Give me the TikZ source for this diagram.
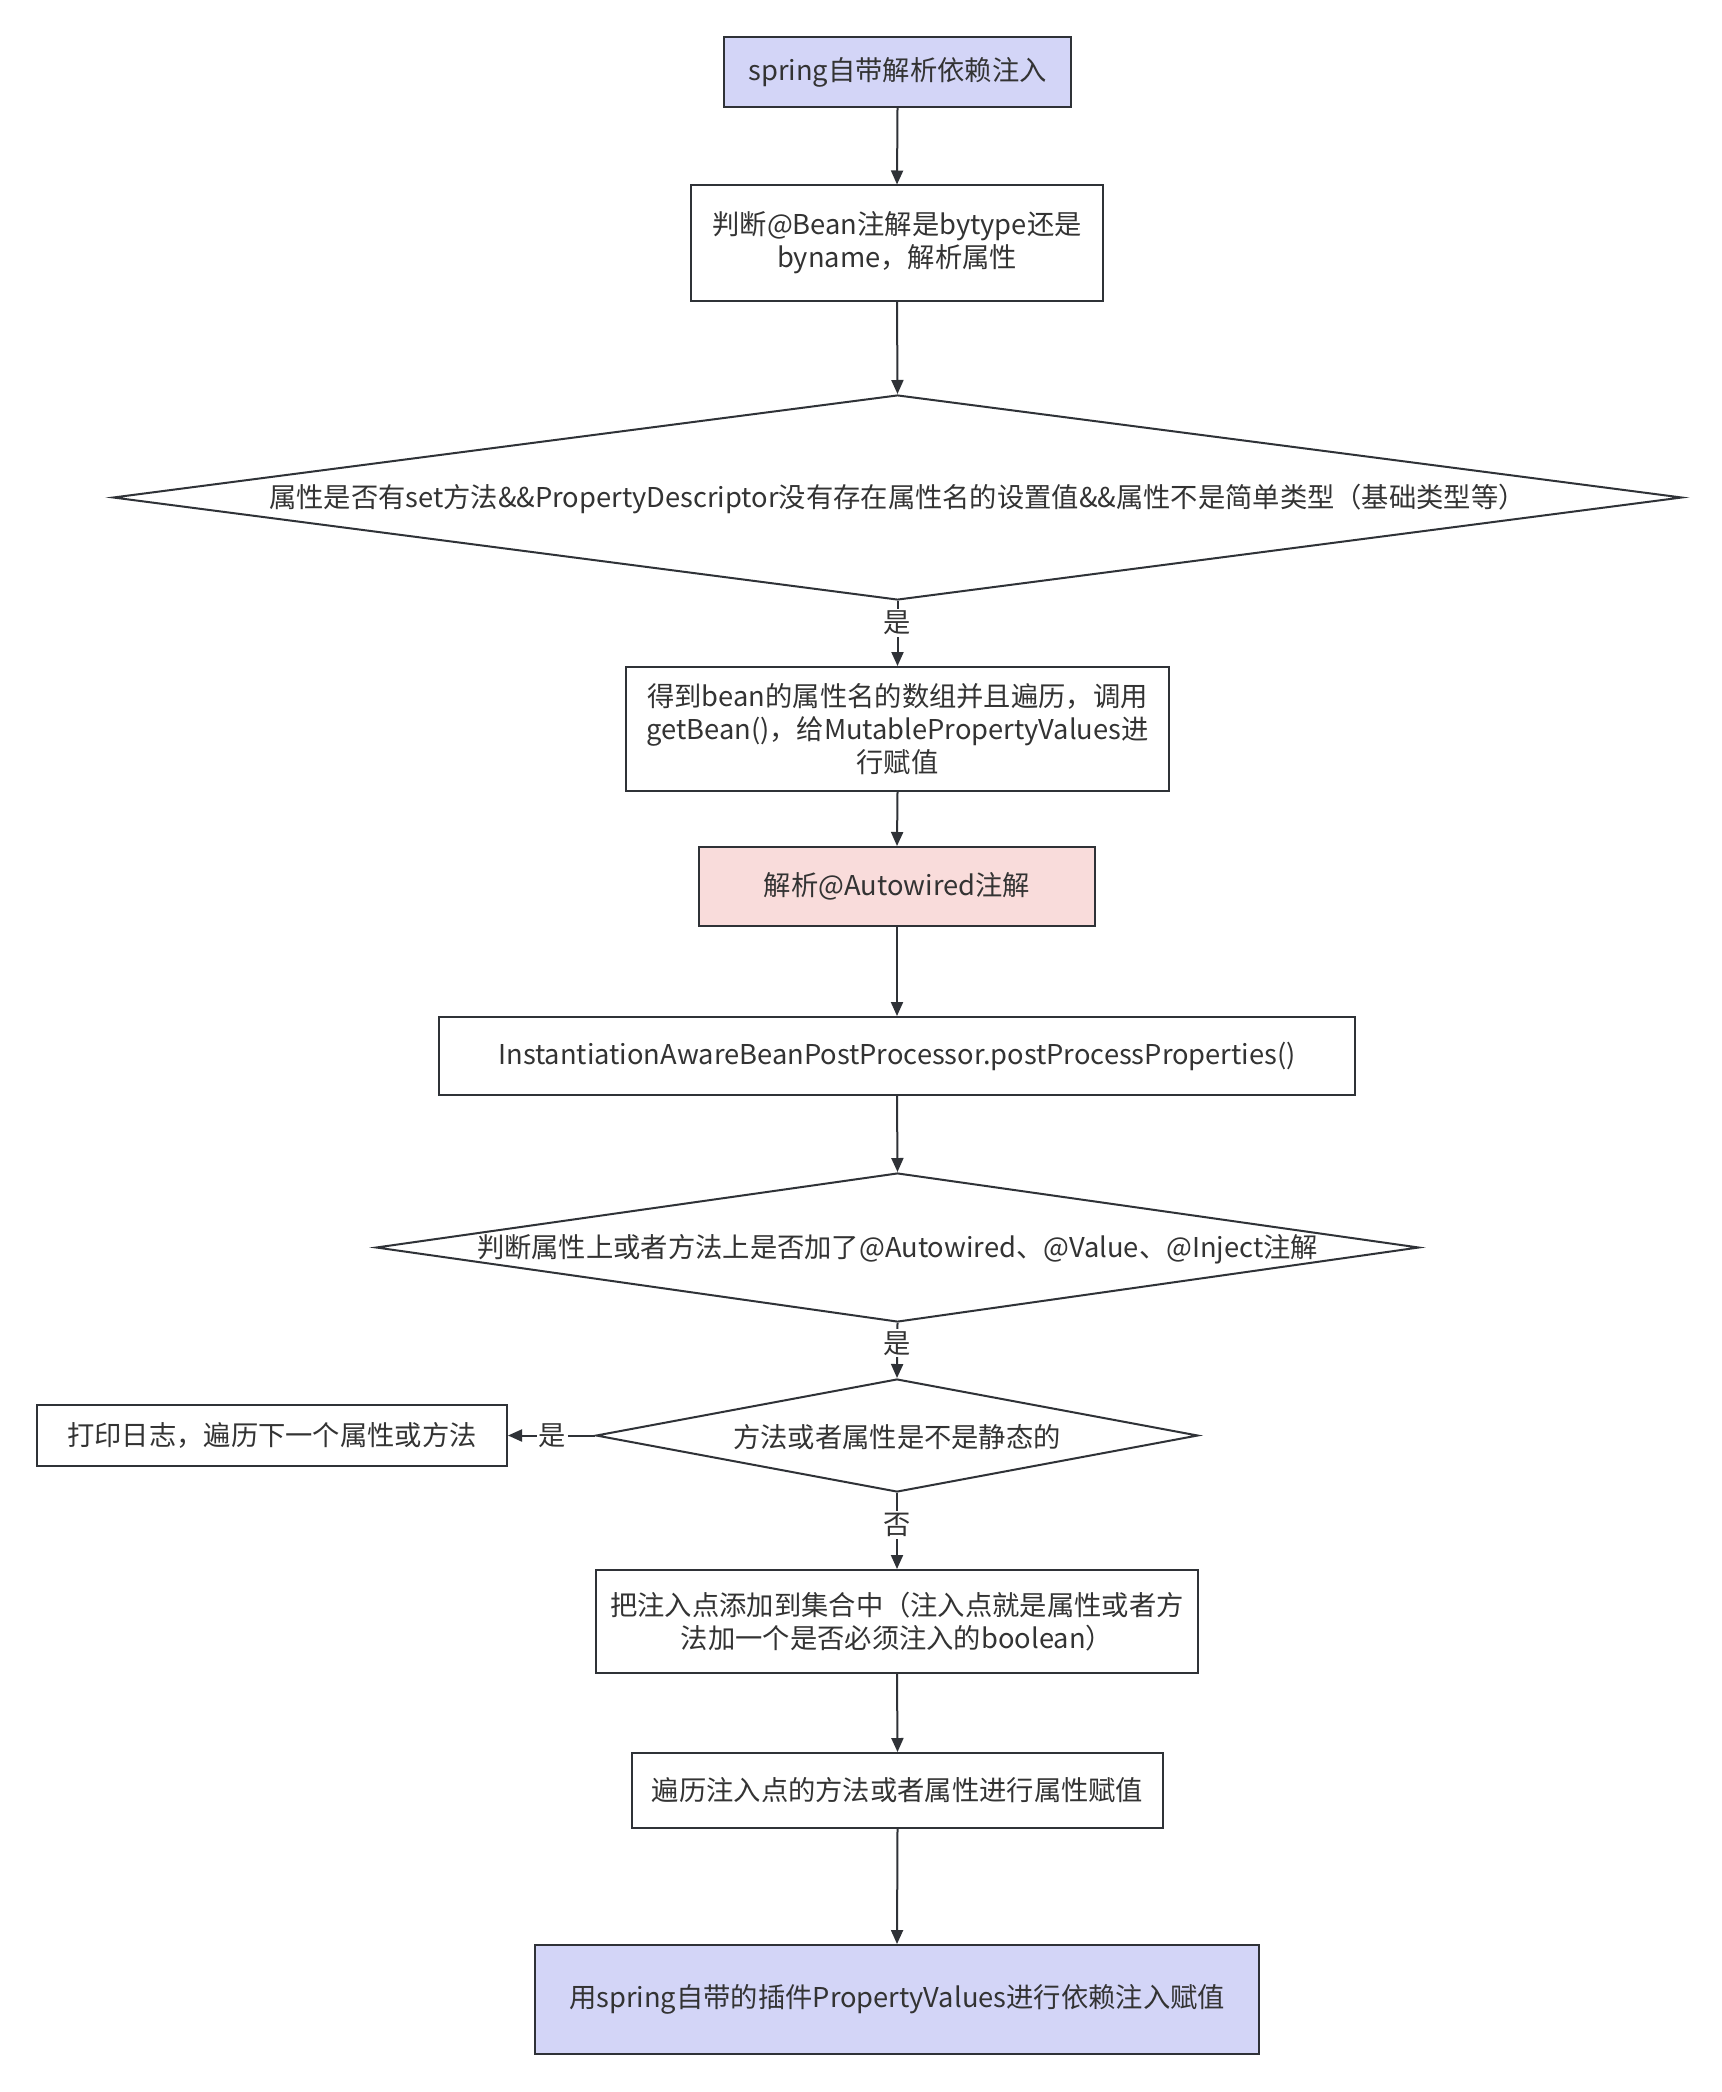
\documentclass[tikz,border=0pt]{standalone}
\usepackage{fontspec}
\setmainfont{Noto Sans CJK SC}
\usetikzlibrary{shapes.geometric,arrows.meta}
\definecolor{lineC}{HTML}{2F3237}
\definecolor{blueF}{HTML}{D3D5F7}
\definecolor{pinkF}{HTML}{F9DCDB}
\definecolor{txt}{HTML}{333333}
\newcommand\myfs{\fontsize{13.65pt}{16.6pt}\selectfont}
\begin{document}
\begin{tikzpicture}[x=0.5pt,y=-0.5pt,
  box/.style={draw=lineC, line width=1pt, rectangle, align=center, text=txt, font=\myfs, inner sep=0pt},
  dia/.style={draw=lineC, line width=1pt, diamond, inner sep=0pt, aspect=2},
  dtxt/.style={text=txt, font=\myfs, inner sep=0pt},
  arr/.style={draw=lineC, line width=1pt, -{Triangle[length=7pt,width=6pt]}},
  lab/.style={fill=white, text=txt, font=\myfs, inner sep=1pt}]
\path[use as bounding box, fill=white] (0,0) rectangle (1721,2092);

\node[box, fill=blueF, minimum width=173.5pt, minimum height=35pt] (b1) at (897.5,72) {spring自带解析依赖注入};
\node[box, minimum width=206pt, minimum height=57.5pt] (b2) at (897,243) {判断@Bean注解是bytype还是\\byname，解析属性};
\node[dia, minimum width=784.5pt, minimum height=102.5pt] (d1) at (897.5,497.5) {};
\node[dtxt] (d1t) at ([yshift=-1pt]d1.center) {属性是否有set方法\&\&PropertyDescriptor没有存在属性名的设置值\&\&属性不是简单类型（基础类型等）};
\node[box, minimum width=271.5pt, minimum height=62pt] (b3) at (897.5,729) {得到bean的属性名的数组并且遍历，调用\\getBean()，给MutablePropertyValues进\\行赋值};
\node[box, fill=pinkF, minimum width=198pt, minimum height=39.5pt] (b4) at (897,886.5) {解析@Autowired注解};
\node[box, minimum width=458pt, minimum height=39pt] (b5) at (897,1056) {InstantiationAwareBeanPostProcessor.postProcessProperties()};
\node[dia, minimum width=521.5pt, minimum height=74.5pt] (d2) at (897.5,1247.5) {};
\node[dtxt] (d2t) at ([yshift=-1pt]d2.center) {判断属性上或者方法上是否加了@Autowired、@Value、@Inject注解};
\node[dia, minimum width=301pt, minimum height=56.5pt] (d3) at (897,1435.5) {};
\node[dtxt] (d3t) at ([yshift=-1pt]d3.center) {方法或者属性是不是静态的};
\node[box, minimum width=235pt, minimum height=30.5pt] (bl) at (272,1435.5) {打印日志，遍历下一个属性或方法};
\node[box, minimum width=301pt, minimum height=51.5pt] (b6) at (897,1621.5) {把注入点添加到集合中（注入点就是属性或者方\\法加一个是否必须注入的boolean）};
\node[box, minimum width=265.5pt, minimum height=37.5pt] (b7) at (897.5,1790.5) {遍历注入点的方法或者属性进行属性赋值};
\node[box, fill=blueF, minimum width=362pt, minimum height=54.5pt] (b8) at (897,1999.5) {用spring自带的插件PropertyValues进行依赖注入赋值};

\draw[arr] (b1.south) -- (b2.north);
\draw[arr] (b2.south) -- (d1.north);
\draw[arr] (d1.south) -- node[lab, pos=0.34] (l1) {是} (b3.north);
\draw[arr] (b3.south) -- (b4.north);
\draw[arr] (b4.south) -- (b5.north);
\draw[arr] (b5.south) -- (d2.north);
\draw[arr] (d2.south) -- node[lab, pos=0.37] (l2) {是} (d3.north);
\draw[arr] (d3.west) -- node[lab, pos=0.49] (l3) {是} (bl.east);
\draw[arr] (d3.south) -- node[lab, pos=0.42] (l4) {否} (b6.north);
\draw[arr] (b6.south) -- (b7.north);
\draw[arr] (b7.south) -- (b8.north);
\end{tikzpicture}
\end{document}
